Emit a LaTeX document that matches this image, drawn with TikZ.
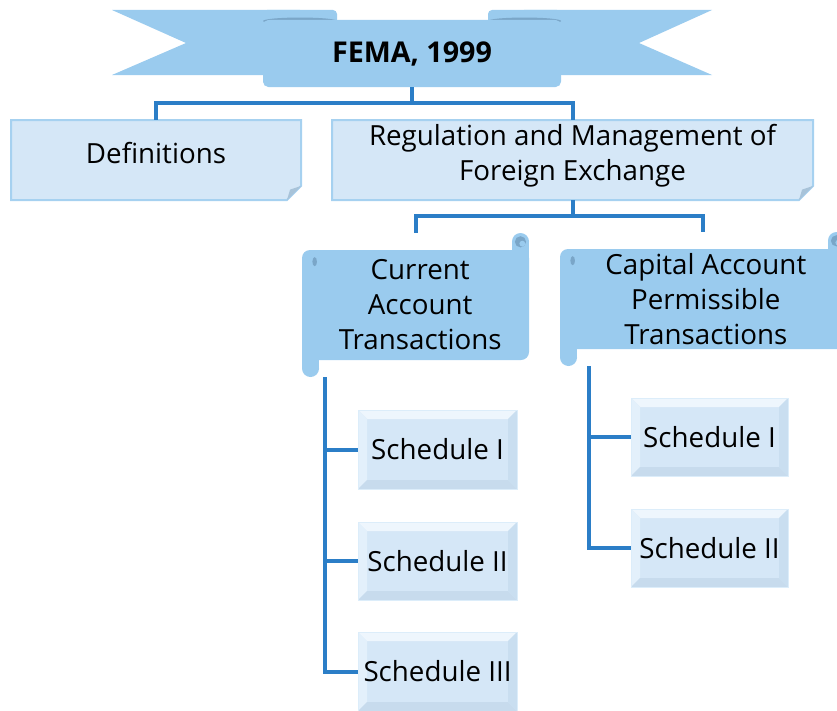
\documentclass[tikz,border=0pt]{standalone}
\usepackage{fontspec}
\setmainfont{Open Sans}
\usetikzlibrary{calc,backgrounds}
\definecolor{ribbon}{HTML}{9ACBEE}
\definecolor{ribbondk}{HTML}{7AA6C8}
\definecolor{conn}{HTML}{2B7EC7}
\definecolor{boxfill}{HTML}{D5E7F7}
\definecolor{boxedge}{HTML}{A6D1F0}
\definecolor{foldc}{HTML}{A8C3D9}
\definecolor{bevT}{HTML}{EEF6FD}
\definecolor{bevL}{HTML}{E3F0FB}
\definecolor{bevR}{HTML}{C9DEF0}
\definecolor{bevB}{HTML}{C7DBED}
\definecolor{bevO}{HTML}{DCEDFA}
\tikzset{
 px/.style 2 args={minimum width=#1*0.75pt, minimum height=#2*0.75pt, inner sep=0pt, outer sep=0pt},
 lbl/.style={align=center, font=\fontsize{20.8}{26.25}\selectfont, text=black},
 connector/.style={draw=conn, line width=3pt},
}
\newcommand\foldbox[1]{%
 \filldraw[fill=boxfill, draw=boxedge, line width=1.5pt] (#1.north west) -- (#1.north east) -- ([yshift=10.5pt]#1.south east) -- ([xshift=-10.5pt]#1.south east) -- (#1.south west) -- cycle;
 \fill[foldc] ([yshift=10.5pt]#1.south east) -- ([xshift=-10.5pt]#1.south east) -- ([xshift=-8.2pt,yshift=7.8pt]#1.south east) -- cycle;}
\newcommand\bevelbox[1]{%
 \fill[boxfill] (#1.south west) rectangle (#1.north east);
 \fill[bevT] (#1.north west) -- (#1.north east) -- ([xshift=-6.75pt,yshift=-6.75pt]#1.north east) -- ([xshift=6.75pt,yshift=-6.75pt]#1.north west) -- cycle;
 \fill[bevL] (#1.north west) -- ([xshift=6.75pt,yshift=-6.75pt]#1.north west) -- ([xshift=6.75pt,yshift=6.75pt]#1.south west) -- (#1.south west) -- cycle;
 \fill[bevB] (#1.south west) -- ([xshift=6.75pt,yshift=6.75pt]#1.south west) -- ([xshift=-6.75pt,yshift=6.75pt]#1.south east) -- (#1.south east) -- cycle;
 \fill[bevR] (#1.south east) -- ([xshift=-6.75pt,yshift=6.75pt]#1.south east) -- ([xshift=-6.75pt,yshift=-6.75pt]#1.north east) -- (#1.north east) -- cycle;
 \draw[bevO, line width=0.75pt] (#1.south west) rectangle (#1.north east);}
\newcommand\scrollshape[1]{%
 \fill[ribbon, rounded corners=6pt] ([yshift=-12.75pt]#1.north west) rectangle ([yshift=12.75pt]#1.south east);
 \fill[ribbon] ([xshift=-12.75pt,yshift=-6.375pt]#1.north east) rectangle ([yshift=-25pt]#1.north east);
 \fill[ribbon] ([xshift=-6.375pt,yshift=-6.375pt]#1.north east) circle (6.375pt);
 \fill[ribbon] ([yshift=6.375pt]#1.south west) rectangle ([xshift=12.75pt,yshift=25pt]#1.south west);
 \fill[ribbon] ([xshift=6.375pt,yshift=6.375pt]#1.south west) circle (6.375pt);
 \fill[ribbondk] ([xshift=-6.4pt,yshift=-6.6pt]#1.north east) circle (4.2pt);
 \fill[ribbon] ([xshift=-5.0pt,yshift=-8.0pt]#1.north east) circle (2.2pt);
 \fill[ribbondk] ([xshift=9.5pt,yshift=-21.5pt]#1.north west) ellipse (1.7pt and 3.4pt);}
\begin{document}
\begin{tikzpicture}[x=0.75pt,y=-0.75pt]
\useasboundingbox (0,0) rectangle (837,710);
% nodes
\node[px={298}{67}, lbl, font=\fontsize{21.5}{26}\selectfont\bfseries] (fema) at (412,53.5) {FEMA, 1999};
\node[px={290}{80}, lbl, text depth=10.5pt] (def) at (156,160) {Definitions};
\node[px={481}{80}, lbl, text depth=11pt] (reg) at (572.5,160) {Regulation and Management of\\Foreign Exchange};
\node[px={227}{144}, lbl] (cur) at (415.5,305) {\hspace*{7pt}Current\\\hspace*{7pt}Account\\\hspace*{7pt}Transactions};
\node[px={285}{134}, lbl] (cap) at (702.5,299) {\hspace*{5pt}Capital Account\\\hspace*{5pt}Permissible\\\hspace*{5pt}Transactions};
\node[px={159}{79}, lbl] (s1) at (437.5,449.5) {Schedule I};
\node[px={159}{78}, lbl] (s2) at (437.5,561) {Schedule II};
\node[px={159}{79}, lbl] (s3) at (437.5,671.5) {Schedule III};
\node[px={157}{78}, lbl] (r1) at (709.5,437) {Schedule I};
\node[px={157}{78}, lbl] (r2) at (709.5,548) {Schedule II};
\coordinate (curstem) at ($(cur.south west)+(23,0)$);
\coordinate (capstem) at ($(cap.south west)+(29,0)$);
% shapes
\begin{pgfonlayer}{background}
 \fill[ribbon] (112,10) -- (300,10) -- (300,75) -- (112,75) -- (186,43) -- cycle;
 \fill[ribbon] (712,10) -- (524,10) -- (524,75) -- (712,75) -- (639,43) -- cycle;
 \fill[ribbon, rounded corners=3pt] (263,26) -- (263,10) -- (337,10) -- (337,26) -- cycle;
 \fill[ribbon, rounded corners=3pt] (488,26) -- (488,10) -- (561,10) -- (561,26) -- cycle;
 \fill[ribbondk] (300,21) ellipse [x radius=27.75pt, y radius=2.6pt];
 \fill[ribbondk] (524.5,21) ellipse [x radius=27.4pt, y radius=2.6pt];
 \fill[ribbon, rounded corners=4pt] (fema.north west) rectangle (fema.south east);
 \fill[ribbon] ([yshift=-2pt]fema.north west) rectangle ([yshift=-18pt]fema.north east);
 \foldbox{def}
 \foldbox{reg}
 \scrollshape{cur}
 \scrollshape{cap}
 \bevelbox{s1}
 \bevelbox{s2}
 \bevelbox{s3}
 \bevelbox{r1}
 \bevelbox{r2}
\end{pgfonlayer}
% connectors
\draw[connector] (fema.south) -- ++(0,16) -| (def.north);
\draw[connector] (fema.south) -- ++(0,16) -| (reg.north);
\draw[connector] (reg.south) -- ++(0,16) -| (cur.north);
\draw[connector] (reg.south) -- ++(0,16) -| (cap.north);
\draw[connector] (curstem) |- (s1.west);
\draw[connector] (curstem) |- (s2.west);
\draw[connector] (curstem) |- (s3.west);
\draw[connector] (capstem) |- (r1.west);
\draw[connector] (capstem) |- (r2.west);
\end{tikzpicture}
\end{document}
